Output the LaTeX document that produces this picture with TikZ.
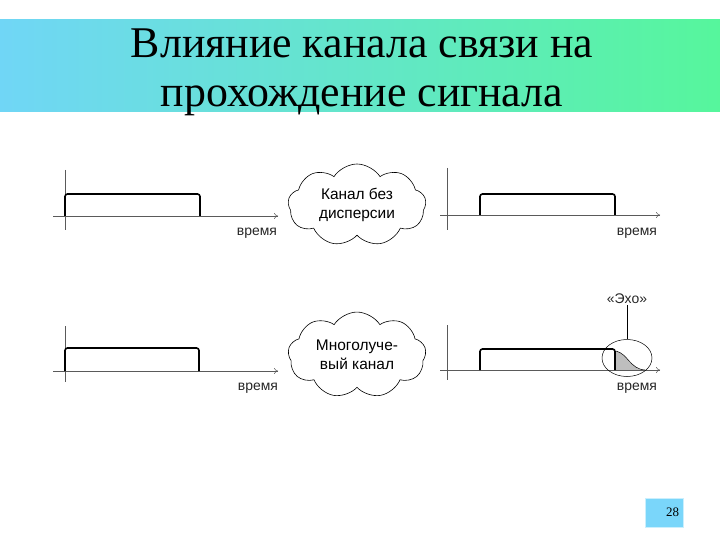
\documentclass[tikz,border=0pt]{standalone}
\usepackage{fontspec}
\setmainfont{Liberation Serif}
\newfontfamily\lblfont{Liberation Sans}
\usepackage{tikz}
\usetikzlibrary{arrows.meta, positioning, shapes.geometric, shapes.symbols}
\definecolor{bandleft}{RGB}{112, 214, 246}
\definecolor{bandright}{RGB}{86, 246, 156}
\definecolor{pagefill}{RGB}{122, 214, 250}
\definecolor{axisgray}{RGB}{90, 90, 90}
\definecolor{echofill}{RGB}{190, 190, 190}
\tikzset{
    axis/.style  ={draw=axisgray, line width=0.5pt},
    axar/.style  ={axis, -{To[length=4pt, width=6pt]}},
    pulse/.style ={draw=black, line width=1.6pt, rounded corners=2.5pt},
    chan/.style  ={cloud, cloud puffs=9, cloud puff arc=115, aspect=1.7,
                   draw=black, line width=0.6pt, fill=white,
                   minimum width=138bp, minimum height=82bp, align=center,
                   font=\lblfont\fontsize{15.5}{19}\selectfont, inner sep=0pt},
    tlbl/.style  ={font=\lblfont\fontsize{14}{16}\selectfont, inner sep=1pt,
                   text=black!85},
    ring/.style  ={ellipse, draw=black, line width=0.5pt,
                   minimum width=50bp, minimum height=37bp, inner sep=0pt},
    conn/.style  ={draw=black, line width=0.6pt}
}
\begin{document}
\begin{tikzpicture}[x=1bp, y=-1bp]
  \useasboundingbox (0,0) rectangle (720,540);

  % title band
  \shade[left color=bandleft, right color=bandright] (0,20) rectangle (720,112);
  \node[align=center, font=\fontsize{44}{49}\selectfont, inner sep=0pt]
       (title) at (362,72) {Влияние канала связи на\\прохождение сигнала};

  % upper row: channel without dispersion
  \draw[axis] (65,170) -- (65,230);
  \draw[axar] (53,216) -- (278,216);
  \draw[pulse] (65,216) -- (65,194) -- (200,194) -- (200,216);
  \node[tlbl] (t1) at (257,233) {время};

  \node[chan] (nodisp) at (357,205) {Канал без\\дисперсии};

  \draw[axis] (447,168) -- (447,230);
  \draw[axar] (440,215) -- (660,215);
  \draw[pulse] (480,215) -- (480,194) -- (615,194) -- (615,215);
  \node[tlbl] (t2) at (637,233) {время};

  % lower row: multipath channel
  \draw[axis] (65,326) -- (65,382);
  \draw[axar] (53,371) -- (278,371);
  \draw[pulse] (65,371) -- (65,348) -- (199,348) -- (199,371);
  \node[tlbl] (t3) at (258,388) {время};

  \node[chan] (multi) at (357,355) {Многолуче-\\вый канал};

  \draw[axis] (447,325) -- (447,380);
  \fill[echofill] (616,351) .. controls (628,354) and (630,369) .. (645,370)
                  -- (616,370) -- cycle;
  \draw[line width=0.5pt] (616,351) .. controls (628,354) and (630,369) .. (645,370);
  \draw[axar] (440,370) -- (660,370);
  \draw[pulse] (480,370) -- (480,349) -- (615,349) -- (615,370);
  \node[tlbl] (t4) at (637,388) {время};

  \node[ring] (echoring) at (627,358) {};
  \node[tlbl] (echo) at (627,299) {«Эхо»};
  \draw[conn] (echo.south) -- (echoring.north);

  % page number
  \node[fill=pagefill, draw=pagefill!40, line width=0.4pt, minimum width=38bp,
        minimum height=29bp, inner sep=0pt, font=\fontsize{13}{15}\selectfont,
        align=right, text width=30bp] (pageno) at (664,512.5) {28};
\end{tikzpicture}
\end{document}
